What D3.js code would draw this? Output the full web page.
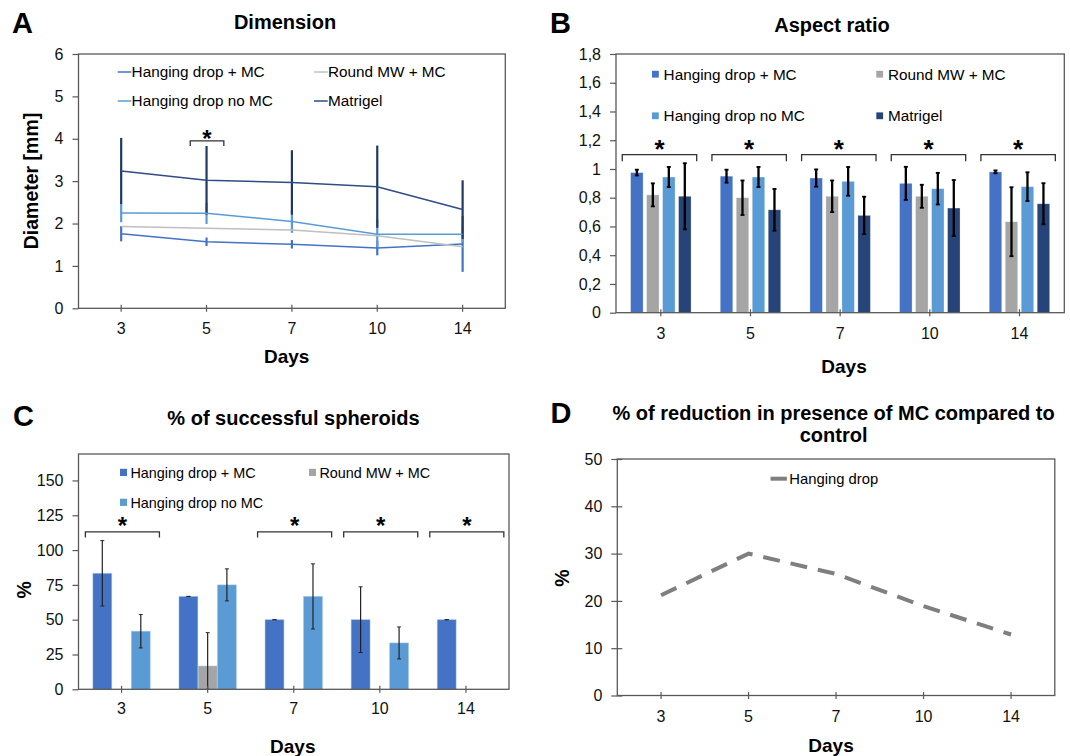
<!DOCTYPE html>
<html>
<head>
<meta charset="utf-8">
<script src="https://cdn.jsdelivr.net/npm/d3@7"></script>
<style>
  body { margin: 0; background: #fff; }
  svg { font-family: "Liberation Sans", Arial, Helvetica, sans-serif; }
</style>
</head>
<body>
<svg id="chart" width="1070" height="756"></svg>
<script>
const days = ["3", "5", "7", "10", "14"];
const groups = ["Hanging drop + MC", "Round MW + MC", "Hanging drop no MC", "Matrigel"];
const colors = ["#4472C4", "#A5A5A5", "#5B9BD5", "#264478"];

// A - diameter [mm], mean and sd
const diamHdMc = [1.76, 1.57, 1.51, 1.42, 1.52];
const diamRound = [1.93, 1.89, 1.85, 1.71, 1.45];
const diamHdNoMc = [2.25, 2.24, 2.05, 1.75, 1.75];
const diamMatrigel = [3.24, 3.02, 2.97, 2.87, 2.33];
const diamSdHdMc = [0.18, 0.1, 0.1, 0.17, 0.66];
const diamSdHdNoMc = [0.22, 0.25, 0.27, 0.35, 0.2];
const diamSdMatrigel = [0.78, 0.81, 0.76, 0.97, 0.69];
const diamTicks = [0, 1, 2, 3, 4, 5, 6];
const diamSignif = ["5"];

// B - aspect ratio
const arHdMc = [0.975, 0.95, 0.937, 0.90, 0.98];
const arRound = [0.82, 0.80, 0.81, 0.81, 0.633];
const arHdNoMc = [0.944, 0.944, 0.914, 0.863, 0.877];
const arMatrigel = [0.81, 0.716, 0.677, 0.728, 0.758];
const arSdHdMc = [0.02, 0.045, 0.06, 0.115, 0.01];
const arSdRound = [0.08, 0.12, 0.11, 0.08, 0.24];
const arSdHdNoMc = [0.07, 0.07, 0.10, 0.11, 0.10];
const arSdMatrigel = [0.23, 0.145, 0.13, 0.195, 0.143];
const arTicks = [0, 0.2, 0.4, 0.6, 0.8, 1, 1.2, 1.4, 1.6, 1.8];
const arSignif = ["3", "5", "7", "10", "14"];

// C - % of successful spheroids
const okHdMc = [83.3, 66.7, 50, 50, 50];
const okRound = [0, 16.7, 0, 0, 0];
const okHdNoMc = [41.7, 75, 66.7, 33.3, 0];
const okSdHdMc = [23.5, 0, 0, 23.6, 0];
const okSdRound = [0, 24, 0, 0, 0];
const okSdHdNoMc = [12, 11.5, 23.4, 11.5, 0];
const okTicks = [0, 25, 50, 75, 100, 125, 150];
const okSignif = ["3", "7", "10", "14"];

// D - % of reduction with MC vs control
const reduction = [21.2, 30.0, 25.7, 18.9, 12.9];
const redTicks = [0, 10, 20, 30, 40, 50];

const svg = d3.select("#chart");
svg.append("rect").attr("width", 1070).attr("height", 756).attr("fill", "#fff");

function txt(x, y, s, size, bold, anchor, rotate) {
    const t = svg.append("text")
        .attr("x", x).attr("y", y)
        .attr("font-size", size)
        .attr("font-weight", bold ? "bold" : "normal")
        .attr("text-anchor", anchor || "start")
        .attr("fill", "#000")
        .text(s);
    if (rotate) t.attr("transform", `rotate(-90,${x},${y})`);
    return t;
}

// sets up scales, axes and frame; returns a layer for marks that sits under the frame
function panel(box, yMax, yTicks, yFmt, xPad, crossY) {
    const g = svg.append("g");
    const x = d3.scaleBand().domain(days).range([box.l, box.r]);
    const y = d3.scaleLinear().domain([0, yMax]).range([box.b, box.t]);

    const gy = svg.append("g").attr("transform", `translate(${box.l},0)`)
        .call(d3.axisLeft(y).tickValues(yTicks).tickFormat(yFmt).tickSize(6).tickPadding(9).tickSizeOuter(0));
    gy.attr("font-size", 16).attr("font-family", null);
    gy.select(".domain").remove();
    gy.selectAll(".tick line").attr("stroke", "#595959").attr("stroke-width", 1.2);
    if (crossY) gy.selectAll(".tick line").attr("x1", 5);
    gy.selectAll(".tick text").attr("fill", "#111");

    const gx = svg.append("g").attr("transform", `translate(0,${box.b})`)
        .call(d3.axisBottom(x).tickSize(3.5).tickPadding(xPad).tickSizeOuter(0));
    gx.attr("font-size", 16).attr("font-family", null);
    gx.select(".domain").remove();
    gx.selectAll(".tick line").attr("y1", -3.5).attr("stroke", "#595959").attr("stroke-width", 1.2);
    gx.selectAll(".tick text").attr("fill", "#111");

    svg.append("rect")
        .attr("x", box.l).attr("y", box.t)
        .attr("width", box.r - box.l).attr("height", box.b - box.t)
        .attr("fill", "none").attr("stroke", "#595959").attr("stroke-width", 1.3);

    return { g, x, y, cx: d => x(d) + x.bandwidth() / 2 };
}

function bracket(g, x0, x1, yTop, drop, starY, starSize) {
    g.append("path")
        .attr("d", `M${x0},${yTop + drop}V${yTop}H${x1}V${yTop + drop}`)
        .attr("fill", "none").attr("stroke", "#333").attr("stroke-width", 1.3);
    g.append("text")
        .attr("x", (x0 + x1) / 2).attr("y", starY + starSize * 0.56)
        .attr("text-anchor", "middle").attr("font-size", starSize).attr("font-weight", "bold")
        .text("*");
}

function errBar(g, cx, y0, y1, color, width, cap) {
    g.append("line").attr("x1", cx).attr("x2", cx).attr("y1", y0).attr("y2", y1)
        .attr("stroke", color).attr("stroke-width", width);
    if (cap > 0) {
        [y0, y1].forEach(yy => g.append("line")
            .attr("x1", cx - cap / 2).attr("x2", cx + cap / 2).attr("y1", yy).attr("y2", yy)
            .attr("stroke", color).attr("stroke-width", width * 0.8));
    }
}

function commaFmt(d) {
    return String(Math.round(d * 10) / 10).replace(".", ",");
}

// ---------------- A: Dimension ----------------
{
    const p = panel({ l: 78.5, r: 505.3, t: 54, b: 308.3 }, 6, diamTicks, d3.format("d"), 11, false);
    const series = [
        { vals: diamHdMc, sd: diamSdHdMc, color: "#4472C4", err: "#4472C4" },
        { vals: diamRound, sd: null, color: "#BFBFBF", err: null },
        { vals: diamHdNoMc, sd: diamSdHdNoMc, color: "#5B9BD5", err: "#5B9BD5" },
        { vals: diamMatrigel, sd: diamSdMatrigel, color: "#2E4C85", err: "#1F3864" }
    ];
    const line = d3.line().x((d, i) => p.cx(days[i])).y(d => p.y(d));
    series.forEach(s => {
        if (s.sd) {
            s.vals.forEach((v, i) => errBar(p.g, p.cx(days[i]), p.y(v - s.sd[i]), p.y(v + s.sd[i]), s.err, 2.2, 0));
        }
    });
    series.forEach(s => {
        p.g.append("path").datum(s.vals).attr("d", line)
            .attr("fill", "none").attr("stroke", s.color).attr("stroke-width", 1.5);
    });
    diamSignif.forEach(d => {
        const c = p.cx(d) + 0.5;
        bracket(p.g, c - 16.8, c + 16.8, p.y(3.95), 5, 133.3, 24);
    });

    // legend
    const leg = [[117.7, 72, 0], [314, 72, 1], [117.7, 101, 2], [314, 101, 3]];
    leg.forEach(([lx, ly, k]) => {
        svg.append("line").attr("x1", lx).attr("x2", lx + 13.7).attr("y1", ly).attr("y2", ly)
            .attr("stroke", series[k].color).attr("stroke-width", 1.5);
        txt(lx + 13.9, ly + 5.4, groups[k], 15.3);
    });

    txt(12, 33.3, "A", 29, true);
    txt(285, 29.3, "Dimension", 20, true, "middle");
    txt(286.7, 363.3, "Days", 19, true, "middle");
    txt(37.5, 181, "Diameter [mm]", 19.5, true, "middle", true);
}

// ---------------- B: Aspect ratio ----------------
{
    const p = panel({ l: 616, r: 1064.3, t: 54, b: 312.7 }, 1.8, arTicks, commaFmt, 11.7, false);
    const vals = [arHdMc, arRound, arHdNoMc, arMatrigel];
    const sds = [arSdHdMc, arSdRound, arSdHdNoMc, arSdMatrigel];
    const half = p.x.bandwidth() * 0.337;
    const sub = d3.scaleBand().domain(groups).range([-half, half]).paddingInner(0.22);
    groups.forEach((name, k) => {
        p.g.selectAll(null).data(vals[k]).join("rect")
            .attr("x", (d, i) => p.cx(days[i]) + sub(name))
            .attr("y", d => p.y(d))
            .attr("width", sub.bandwidth())
            .attr("height", d => p.y(0) - p.y(d))
            .attr("fill", colors[k])
            .attr("stroke", "#fff").attr("stroke-opacity", 0.35).attr("stroke-width", 0.8);
    });
    groups.forEach((name, k) => {
        vals[k].forEach((v, i) => {
            const cx = p.cx(days[i]) + sub(name) + sub.bandwidth() / 2;
            errBar(p.g, cx, p.y(v - sds[k][i]), p.y(v + sds[k][i]), "#000", 2.3, 4);
        });
    });
    const bw = p.x.bandwidth();
    arSignif.forEach(d => {
        const c = p.cx(d);
        bracket(p.g, c - 0.43 * bw, c + 0.40 * bw, p.y(1.1), 6.7, 143.3, 26);
    });

    const leg = [[652, 74.2, 0], [876.3, 74.2, 1], [652, 115.8, 2], [876.3, 115.8, 3]];
    leg.forEach(([lx, ly, k]) => {
        svg.append("rect").attr("x", lx).attr("y", ly - 3.4).attr("width", 6.8).attr("height", 6.8)
            .attr("fill", colors[k]);
        txt(lx + 11.6, ly + 5.6, groups[k], 15.3);
    });

    txt(550, 33.3, "B", 29, true);
    txt(832, 31.7, "Aspect ratio", 20, true, "middle");
    txt(844, 372.7, "Days", 19, true, "middle");
}

// ---------------- C: % of successful spheroids ----------------
{
    const p = panel({ l: 78.5, r: 509, t: 454, b: 689.3 }, 169, okTicks, d3.format("d"), 10, false);
    const names = groups.slice(0, 3);
    const vals = [okHdMc, okRound, okHdNoMc];
    const sds = [okSdHdMc, okSdRound, okSdHdNoMc];
    const half = p.x.bandwidth() * 0.333;
    const sub = d3.scaleBand().domain(names).range([-half, half]).paddingInner(0.02);
    names.forEach((name, k) => {
        p.g.selectAll(null).data(vals[k]).join("rect")
            .attr("x", (d, i) => p.cx(days[i]) + sub(name))
            .attr("y", d => p.y(d))
            .attr("width", sub.bandwidth())
            .attr("height", d => p.y(0) - p.y(d))
            .attr("fill", colors[k])
            .attr("stroke", "#9DC3E6").attr("stroke-opacity", 0.6).attr("stroke-width", 0.8);
    });
    names.forEach((name, k) => {
        vals[k].forEach((v, i) => {
            if (v <= 0) return;
            const cx = p.cx(days[i]) + sub(name) + sub.bandwidth() / 2;
            errBar(p.g, cx, p.y(Math.max(0, v - sds[k][i])), p.y(v + sds[k][i]), "#222", 1.2, 4);
        });
    });
    const bw = p.x.bandwidth();
    okSignif.forEach(d => {
        const c = p.cx(d);
        bracket(p.g, c - 0.42 * bw, c + 0.44 * bw, p.y(113), 5.6, 521, 24);
    });

    const leg = [[120, 472.4, 0], [309, 472.4, 1], [120, 502.3, 2]];
    leg.forEach(([lx, ly, k]) => {
        svg.append("rect").attr("x", lx).attr("y", ly - 3.6).attr("width", 7).attr("height", 7.2)
            .attr("fill", colors[k]);
        txt(lx + 10.4, ly + 5.4, groups[k], 14.4);
    });

    txt(13, 425.7, "C", 29, true);
    txt(293.5, 424.7, "% of successful spheroids", 20, true, "middle");
    txt(292.8, 753, "Days", 19, true, "middle");
    txt(30.7, 589.7, "%", 19.5, true, "middle", true);
}

// ---------------- D: % of reduction ----------------
{
    const p = panel({ l: 617.3, r: 1054.8, t: 459, b: 695.5 }, 50, redTicks, d3.format("d"), 11.6, true);
    const line = d3.line().x((d, i) => p.cx(days[i])).y(d => p.y(d));
    p.g.append("path").datum(reduction).attr("d", line)
        .attr("fill", "none").attr("stroke", "#7F7F7F").attr("stroke-width", 4)
        .attr("stroke-dasharray", "17,11");

    svg.append("line").attr("x1", 770.5).attr("x2", 786.9).attr("y1", 478.7).attr("y2", 478.7)
        .attr("stroke", "#7F7F7F").attr("stroke-width", 4);
    txt(789.3, 484, "Hanging drop", 14.8);

    txt(550.4, 423, "D", 29, true);
    txt(833.6, 419.7, "% of reduction in presence of MC compared to", 20, true, "middle");
    txt(833.6, 442.3, "control", 20, true, "middle");
    txt(831, 752, "Days", 19, true, "middle");
    txt(569, 578, "%", 19.5, true, "middle", true);
}
</script>
</body>
</html>
